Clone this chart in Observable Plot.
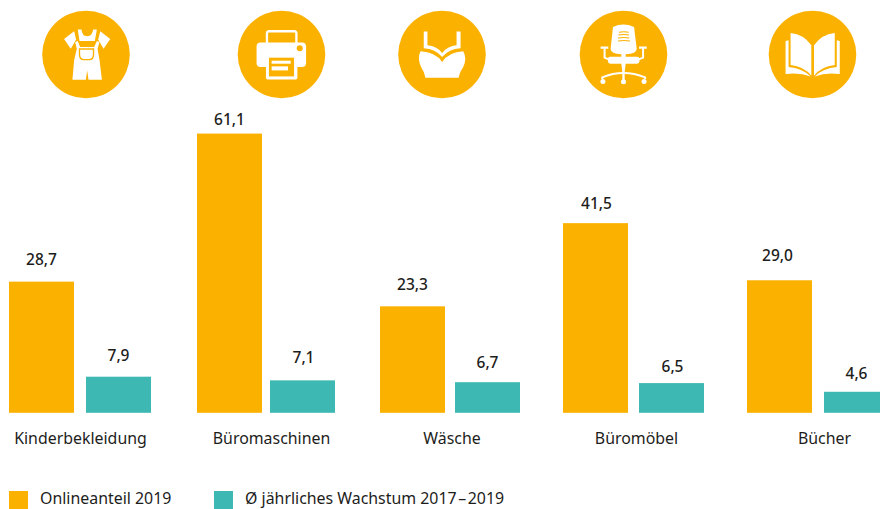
<!DOCTYPE html>
<html><head><meta charset="utf-8">
<script src="https://cdn.jsdelivr.net/npm/d3@7"></script>
<script src="https://cdn.jsdelivr.net/npm/@observablehq/plot@0.6"></script>
<style>
html,body{margin:0;padding:0;background:#fff;overflow:hidden}
svg{display:block}
#legend{position:relative;height:18px;font:15.9px "Noto Sans",sans-serif;color:#1d1d1b;white-space:nowrap}
#legend i{position:absolute;top:0;width:19px;height:18px}
#legend span{position:absolute;top:-2px;line-height:18px}
</style></head><body>
<div id="chart"></div>
<div id="legend"></div>
<script>
// Data
const categories = ["Kinderbekleidung","Büromaschinen","Wäsche","Büromöbel","Bücher"];
const onlineShare = [28.7,61.1,23.3,41.5,29.0];
const growth = [7.9,7.1,6.7,6.5,4.6];
const seriesNames = ["Onlineanteil 2019","Ø jährliches Wachstum 2017\u200A–\u200A2019"];

// Layout (pixel-based x scale; the reference spacing is irregular)
const onlineLeft = [9,197,380,563,747];
const growthLeft = [86,270,455,639,824];
const barWidth = 65;
const catCenters = [80,271,451.5,636,824];
const iconCenters = [85.5,281,441.5,623,812];
const onlineLabelX = [41,229,412,596,777];
const growthLabelX = [118,303,487,672,856];
const onlineLift = [22,14.5,22,20,25];
const growthLift = [21,23,20,17,18];
const pxPerUnit = 4.57;
const baseline = 412.8;
const iconLevel = (baseline - 54) / pxPerUnit;
const colors = {online:"#fbb100", growth:"#3eb8b3"};
const ink = "#1d1d1b";
const fontFamily = '"Noto Sans",sans-serif';

const o = colors.online;
const iconBodies = [
`<g transform="translate(-126,-31)" fill="#fff">
<path d="M192 116L222 93L228 118L212 145Z"/><path d="M330 116L300 93L294 118L310 145Z"/>
<path d="M233 88L244 88Q246 108 261 108Q276 108 279 88L290 88L284 122L238 122Z"/>
<path d="M225 125L233 122L240 140L282 140L290 122L298 125L292 145L298 180L305 238L265 238L261 210L257 238L217 238L222 180L230 145Z"/>
<path d="M238 146H280V163Q279 178 268 178H250Q239 178 238 163Z" stroke="${o}" stroke-width="4"/></g>`,
`<g transform="translate(-711,-31)" fill="#fff">
<path d="M799 130V100Q799 93 806 93H880Q887 93 887 100V130" fill="none" stroke="#fff" stroke-width="7"/>
<rect x="768" y="127" width="148" height="73" rx="12"/>
<rect x="796" y="165" width="94" height="72" rx="5"/>
<rect x="805" y="172" width="75" height="56" fill="${o}"/>
<rect x="813" y="181" width="57" height="9"/><rect x="813" y="198" width="49" height="12"/>
<circle cx="897" cy="144" r="9" fill="${o}"/></g>`,
`<g transform="translate(-53,-31)" fill="#fff">
<path d="M130 94H141V135Q170 138 185 158Q200 138 228 135V94H240V144Q205 146 185 170Q165 146 130 144Z"/>
<path d="M120 153Q165 155 185 185Q205 155 248 153Q260 175 248 200Q237 215 234 232H135Q132 215 122 200Q110 175 120 153Z"/></g>`,
`<g transform="translate(-597,-31)" fill="#fff">
<path d="M697 80Q728 66 760 80L768 145Q768 160 735 162H722Q690 160 690 145Z"/>
<g stroke="${o}" stroke-width="3" fill="none"><path d="M715 96Q730 93 744 96M713 104Q730 101 745 104M712 113Q730 110 746 113M712 122Q730 119 748 122"/></g>
<g fill="none" stroke="#fff"><path d="M660 142H683M798 142H775" stroke-width="7"/><path d="M672 142V172L686 178M787 142V172L772 178" stroke-width="6"/>
<path d="M665 236V231Q728 205 793 231V236" stroke-width="6"/></g>
<rect x="682" y="169" width="94" height="21" rx="7"/>
<path d="M722 160H735V190L732 215V240H725V215L722 190Z"/>
<circle cx="667" cy="243" r="7.5"/><circle cx="728.5" cy="244" r="7.5"/><circle cx="790" cy="243" r="7.5"/></g>`,
`<g transform="translate(-1164,-31)" fill="#fff">
<path d="M1230 98Q1270 102 1292 135V226Q1270 198 1230 194Z"/>
<path d="M1362 98Q1322 102 1300 135V226Q1322 198 1362 194Z"/>
<path d="M1215 122L1224 120V200Q1265 204 1290 228Q1255 215 1215 221Z"/>
<path d="M1377 122L1368 120V200Q1327 204 1302 228Q1337 215 1377 221Z"/></g>`
];
const iconUri = body => "data:image/svg+xml," + encodeURIComponent(
  `<svg xmlns="http://www.w3.org/2000/svg" viewBox="0 0 263 263">${body}</svg>`);

const idx = categories.map((_, i) => i);
const valueText = {fontFamily, fontSize: 15.5, fontWeight: 500, fill: ink, textAnchor: "middle"};

const plot = Plot.plot({
  width: 880, height: 491,
  marginTop: 0, marginRight: 0, marginLeft: 0, marginBottom: 78.2,
  style: {background: "#fff", overflow: "hidden"},
  x: {type: "linear", domain: [0, 880], range: [0, 880]},
  y: {domain: [0, baseline / pxPerUnit], range: [baseline, 0], axis: null},
  marks: [
    Plot.rectY(idx, {x1: i => onlineLeft[i], x2: i => onlineLeft[i] + barWidth, y1: 0, y2: i => onlineShare[i], fill: colors.online}),
    Plot.rectY(idx, {x1: i => growthLeft[i], x2: i => growthLeft[i] + barWidth, y1: 0, y2: i => growth[i], fill: colors.growth}),
    Plot.text(idx, {...valueText, x: i => onlineLabelX[i], y: i => onlineShare[i] + onlineLift[i] / pxPerUnit,
      text: i => onlineShare[i].toFixed(1).replace(".", ",")}),
    Plot.text(idx, {...valueText, x: i => growthLabelX[i], y: i => growth[i] + growthLift[i] / pxPerUnit,
      text: i => growth[i].toFixed(1).replace(".", ",")}),
    Plot.axisX({ticks: catCenters, tickSize: 0, tickPadding: 19, label: null, tickRotate: 0,
      tickFormat: d => categories[catCenters.indexOf(d)], fontFamily, fontSize: 15.9, fill: ink, textOverflow: null}),
    Plot.dot(idx, {x: i => iconCenters[i], y: () => iconLevel, r: 43.8, fill: colors.online}),
    Plot.image(idx, {x: i => iconCenters[i], y: () => iconLevel, width: 88, height: 88, src: i => iconUri(iconBodies[i])})
  ]
});
document.getElementById("chart").append(plot);

const legendLeft = [[9,40,colors.online],[214,245,colors.growth]];
document.getElementById("legend").innerHTML = seriesNames.map((n, k) =>
  `<i style="left:${legendLeft[k][0]}px;background:${legendLeft[k][2]}"></i><span style="left:${legendLeft[k][1]}px">${n}</span>`).join("");
</script>
</body></html>
